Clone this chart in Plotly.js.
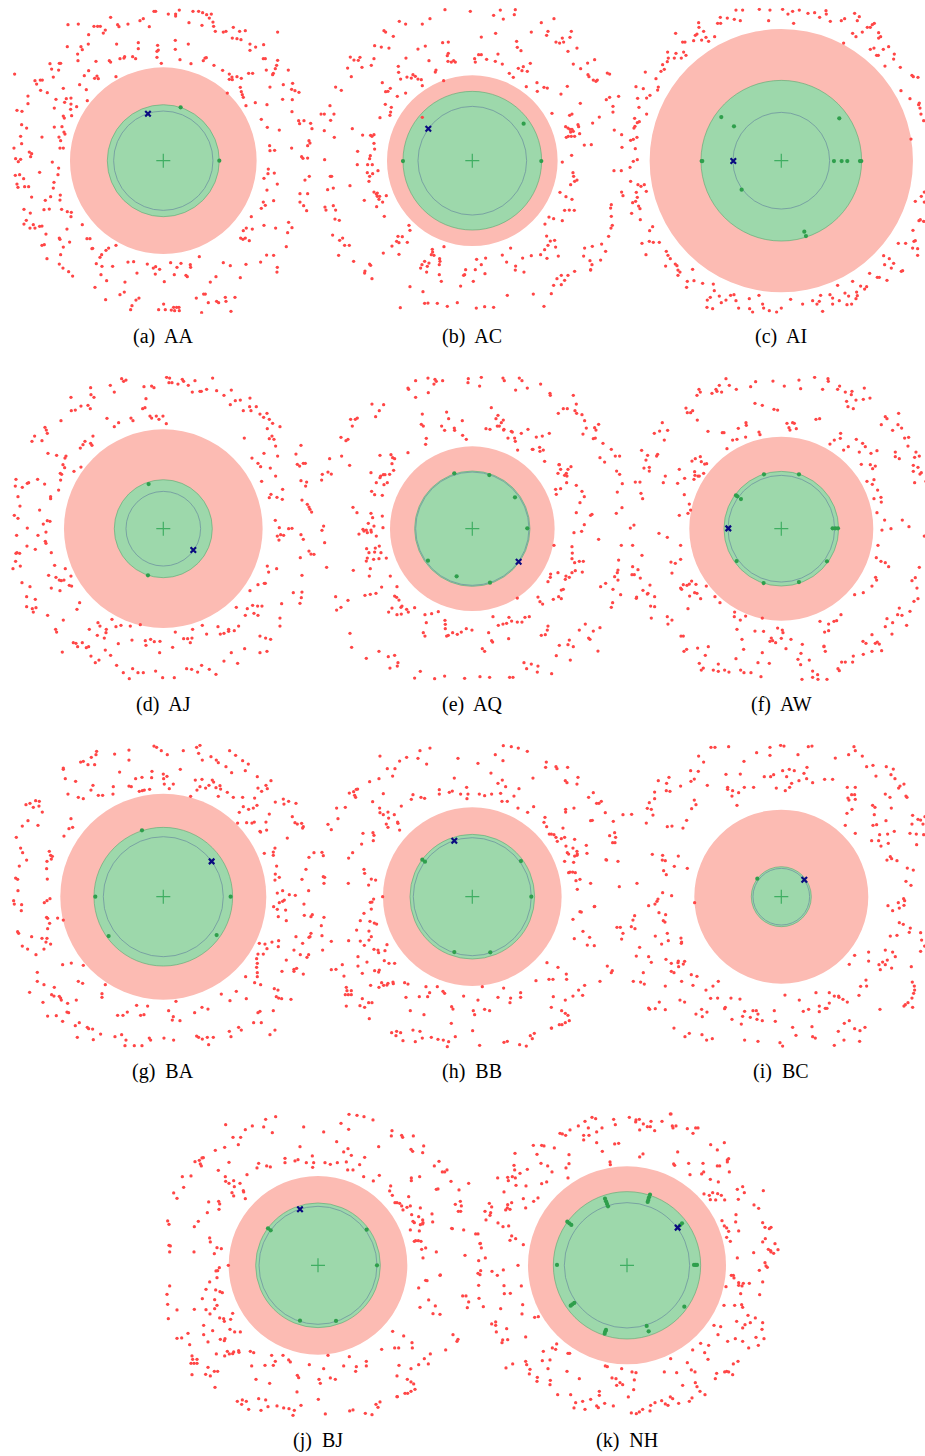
<!DOCTYPE html>
<html><head><meta charset="utf-8">
<script src="https://cdn.plot.ly/plotly-3.0.1.min.js"></script>
<style>html,body{margin:0;padding:0;background:#fff}</style>
</head><body><div id="chart" style="width:925px;height:1456px"></div>
<script>
// ---------------- DATA (units: measured picture units, y downward) ----------------
const names = ['AA','AC','AI','AJ','AQ','AW','BA','BB','BC','BJ','NH'];
const captions = ['(a)  AA','(b)  AC','(c)  AI','(d)  AJ','(e)  AQ','(f)  AW','(g)  BA','(h)  BB','(i)  BC','(j)  BJ','(k)  NH'];
const centers = [[460,458],[463,458],[466,458],[460,458],[463,458],[466,458],[460,458],[463,458],[466,458],[463,458],[471,460]];
const outerRadius = [280,256,395,298,247,276,309,268,261,268,297];
const greenRadius = [168,208,241,147,173,172,208,187,90,187,221];
const innerRadius = [149,163,145,112,170,160,180,177,85,177,188];

const redAA = [[432,10],[437,10],[475,18],[497,18],[497,24],[508,6],[549,10],[566,10],[578,14],[590,20],[604,18],[598,30],[609,42],[611,55],[616,70],[576,52],[537,44],[640,72],[648,70],[670,58],[689,70],[706,68],[667,90],[681,92],[693,95],[720,108],[737,117],[761,110],[720,127],[803,72],[302,28],[323,50],[327,56],[354,48],[390,38],[400,32],[418,56],[174,50],[205,48],[252,55],[263,55],[271,55],[286,66],[280,75],[236,80],[213,116],[217,125],[203,138],[235,108],[172,116],[320,108],[385,104],[385,122],[443,112],[445,126],[441,130],[441,148],[496,97],[496,124],[535,108],[510,155],[454,166],[543,167],[585,150],[589,149],[580,158],[612,172],[638,187],[658,198],[658,214],[666,207],[667,215],[681,206],[694,211],[728,196],[716,196],[760,152],[766,152],[803,157],[800,172],[796,182],[790,196],[769,186],[788,200],[835,186],[820,230],[848,226],[855,248],[845,244],[780,237],[691,238],[694,251],[697,260],[700,268],[652,255],[708,293],[736,284],[771,290],[818,274],[867,253],[847,275],[846,311],[866,338],[882,338],[902,346],[906,362],[869,347],[808,366],[772,358],[754,334],[779,413],[794,427],[780,428],[845,420],[875,446],[879,451],[893,450],[897,398],[893,413],[900,405],[762,511],[774,497],[793,495],[775,483],[802,528],[771,546],[885,516],[898,505],[870,557],[893,557],[881,593],[870,582],[890,608],[836,643],[846,659],[833,674],[829,716],[797,660],[762,652],[760,582],[791,578],[754,601],[766,592],[724,626],[727,663],[709,660],[700,668],[692,690],[699,694],[718,698],[706,690],[770,741],[791,742],[752,762],[802,778],[801,792],[708,769],[691,809],[661,773],[640,764],[618,806],[601,822],[568,746],[541,770],[542,778],[528,802],[532,806],[513,766],[482,764],[463,821],[501,778],[493,800],[449,784],[437,776],[430,780],[436,798],[412,768],[381,795],[371,761],[354,762],[308,775],[276,775],[273,800],[259,767],[275,740],[270,748],[296,720],[318,712],[288,727],[248,721],[231,692],[240,692],[246,722],[217,650],[179,702],[171,663],[152,740],[148,768],[159,780],[176,791],[188,804],[111,752],[96,712],[103,710],[108,678],[89,655],[96,654],[70,650],[75,660],[60,660],[42,648],[49,637],[42,604],[61,615],[65,567],[102,605],[106,577],[122,566],[151,561],[150,576],[155,604],[172,611],[184,613],[183,626],[118,603],[130,540],[132,523],[144,500],[146,480],[89,493],[127,462],[56,536],[44,536],[41,512],[29,500],[16,502],[24,538],[21,528],[32,454],[25,461],[17,452],[62,446],[58,432],[35,407],[32,385],[12,420],[50,360],[35,350],[21,307],[36,310],[54,287],[54,264],[75,218],[80,228],[91,216],[97,216],[92,247],[112,254],[130,207],[125,183],[120,167],[148,166],[152,166],[146,186],[160,241],[138,274],[169,272],[164,283],[183,270],[183,288],[182,304],[200,296],[133,300],[160,324],[163,330],[185,323],[133,357],[156,356],[162,372],[165,378],[147,387],[152,398],[160,420],[150,420],[96,387],[65,437],[223,203],[209,230],[229,245],[236,188],[232,278],[254,211],[261,204],[265,212],[258,160],[298,158],[302,162],[318,206],[330,152],[344,146],[342,150],[368,146],[377,152],[14,198],[204,158],[287,875],[330,860],[343,852],[362,905],[366,893],[378,876],[387,870],[446,905],[461,888],[466,905],[484,906],[491,898],[494,908],[500,898],[508,908],[507,898],[581,858],[586,858],[559,870],[595,884],[620,880],[626,884],[646,868],[648,880],[675,868],[663,910],[575,914],[255,838],[290,818],[345,822],[148,690],[150,694],[160,717]];

const redAC = [[381,5],[457,10],[527,22],[547,6],[556,33],[589,20],[592,5],[244,40],[263,48],[313,48],[336,32],[198,68],[203,72],[226,85],[170,113],[190,117],[213,120],[168,152],[97,147],[108,156],[121,157],[126,148],[89,180],[100,206],[132,178],[160,172],[264,150],[241,175],[242,193],[248,213],[267,207],[285,200],[280,210],[292,205],[300,213],[310,215],[313,233],[333,158],[300,123],[322,114],[374,104],[391,102],[391,136],[388,143],[390,160],[400,162],[412,162],[407,158],[470,152],[472,162],[482,140],[490,140],[490,87],[506,154],[533,76],[540,138],[553,168],[532,160],[574,196],[586,208],[601,181],[616,176],[612,188],[628,190],[637,166],[596,100],[598,118],[609,128],[640,72],[670,44],[690,70],[686,82],[708,32],[714,102],[725,105],[733,90],[737,102],[756,88],[760,70],[750,130],[777,120],[766,168],[788,182],[809,165],[830,155],[810,200],[813,206],[826,216],[834,220],[838,216],[868,195],[875,198],[865,275],[875,268],[902,265],[885,295],[885,312],[889,366],[911,380],[912,418],[888,488],[910,488],[911,552],[915,563],[880,590],[878,600],[880,625],[883,652],[879,660],[872,685],[863,730],[851,708],[848,756],[823,715],[800,720],[797,744],[816,758],[822,770],[818,785],[770,790],[750,802],[730,802],[740,817],[730,830],[717,812],[707,832],[700,857],[678,895],[646,858],[618,792],[614,750],[640,743],[593,774],[592,786],[566,762],[553,741],[578,720],[568,862],[527,898],[500,896],[475,900],[503,750],[490,770],[476,754],[472,785],[501,797],[466,820],[443,785],[440,800],[437,802],[428,834],[418,884],[388,895],[378,716],[370,820],[365,752],[366,760],[364,770],[364,800],[343,724],[344,732],[340,740],[348,742],[333,765],[328,775],[326,792],[320,760],[312,770],[308,780],[315,851],[276,836],[330,885],[358,886],[320,886],[247,899],[273,652],[276,667],[253,686],[240,685],[236,700],[243,704],[268,703],[222,714],[243,739],[196,735],[162,812],[158,772],[155,768],[141,789],[140,795],[107,760],[94,712],[80,712],[74,690],[65,697],[44,681],[62,742],[199,625],[176,596],[183,574],[178,565],[175,558],[185,565],[194,582],[178,555],[168,552],[205,563],[153,520],[148,494],[155,505],[164,497],[180,488],[118,470],[149,470],[163,470],[157,443],[155,452],[170,423],[168,406],[162,385],[168,380],[158,382],[134,381],[119,430],[103,362],[53,237],[70,247],[36,293],[48,318],[38,337],[19,318],[9,318],[19,368],[49,388],[20,455],[37,505],[41,505],[29,545],[46,540],[21,597],[24,606],[46,593],[53,606],[51,633],[64,637],[96,533],[139,577],[186,329],[218,312],[216,322],[202,289],[220,298],[203,251],[210,250],[217,241],[238,265],[263,255],[193,224],[313,328],[377,218],[352,192],[354,186],[625,236],[658,250],[678,238],[688,240],[657,224],[729,258],[748,235],[787,286],[702,316],[755,322],[762,318],[743,356],[750,360],[756,364],[762,364],[758,372],[766,370],[780,350],[782,356],[785,377],[770,385],[760,385],[751,385],[745,388],[799,411],[820,410],[824,345],[844,327],[733,462],[761,442],[765,494],[770,520],[777,516],[758,530],[767,505],[726,553],[744,566],[762,574],[754,606],[740,607],[769,607],[733,638],[693,627],[707,632],[681,648],[686,684],[697,699],[690,712],[710,697],[680,725],[687,751],[713,717],[721,744],[668,740],[818,786]];

const redAI = [[330,6],[350,6],[400,4],[432,6],[470,4],[486,18],[500,10],[520,6],[546,16],[566,14],[581,28],[601,18],[613,40],[600,8],[646,38],[656,32],[686,16],[700,26],[694,38],[690,86],[680,76],[709,72],[724,58],[733,58],[739,50],[745,46],[758,74],[764,86],[758,90],[503,46],[428,38],[325,34],[343,38],[304,30],[283,28],[284,46],[275,46],[218,44],[219,58],[233,70],[213,78],[208,82],[240,88],[266,86],[227,96],[248,100],[203,98],[170,102],[177,102],[149,76],[173,132],[125,132],[150,136],[180,142],[166,150],[145,150],[127,150],[124,161],[110,170],[115,184],[105,190],[90,212],[97,237],[95,246],[58,192],[52,242],[30,236],[35,271],[62,270],[72,262],[39,298],[62,318],[26,331],[34,344],[40,341],[27,355],[24,360],[22,394],[14,397],[28,422],[33,388],[34,455],[22,460],[12,478],[14,520],[36,530],[45,535],[55,530],[61,550],[31,553],[34,568],[29,580],[20,584],[38,594],[42,602],[17,616],[43,635],[71,668],[80,656],[48,706],[60,740],[70,700],[82,703],[100,703],[121,730],[126,742],[133,752],[119,774],[148,768],[153,773],[156,786],[162,792],[156,802],[200,784],[184,820],[182,838],[204,818],[230,826],[262,828],[265,848],[253,868],[244,876],[243,898],[260,902],[280,864],[286,884],[300,876],[314,862],[324,860],[330,878],[338,900],[370,872],[371,902],[380,912],[399,862],[410,888],[413,900],[430,908],[452,912],[466,900],[494,874],[530,888],[560,878],[573,888],[580,880],[584,862],[590,910],[612,860],[620,870],[620,888],[640,878],[657,855],[663,890],[668,864],[677,888],[690,872],[694,863],[716,843],[722,836],[704,834],[692,852],[635,832],[680,820],[731,796],[754,808],[760,808],[783,817],[776,770],[796,780],[790,752],[773,743],[803,766],[826,790],[830,788],[817,706],[839,706],[860,720],[875,742],[875,722],[864,700],[861,667],[879,638],[883,635],[893,640],[868,698],[895,552],[886,565],[868,580],[895,582],[855,393],[852,272],[878,290],[880,285],[885,318],[893,338],[882,300],[825,248],[858,202],[862,206],[876,208],[823,178],[777,174],[803,153],[805,138],[788,116],[772,124],[757,142],[752,142],[733,124],[744,120],[653,105]];

const redAJ = [[335,8],[341,16],[348,12],[402,32],[425,30],[432,35],[408,68],[398,98],[405,95],[420,120],[425,126],[439,120],[459,120],[447,130],[469,143],[477,20],[486,20],[479,6],[504,24],[517,10],[521,16],[535,28],[555,14],[547,48],[570,46],[574,46],[590,40],[608,6],[620,44],[664,42],[642,58],[661,86],[676,74],[691,72],[720,66],[719,92],[700,104],[723,104],[739,92],[750,114],[771,112],[761,124],[778,130],[788,142],[810,152],[772,158],[786,180],[778,188],[792,190],[797,210],[803,240],[762,232],[744,262],[752,272],[726,246],[703,186],[781,276],[797,300],[755,316],[783,355],[778,365],[801,364],[817,370],[818,340],[796,433],[808,455],[802,480],[812,476],[821,478],[807,492],[836,458],[846,457],[858,234],[873,208],[862,265],[869,270],[880,262],[886,262],[873,314],[890,318],[887,330],[892,385],[897,393],[900,400],[905,408],[876,372],[873,476],[880,490],[897,525],[903,534],[912,535],[871,545],[876,598],[850,650],[876,648],[874,665],[870,682],[815,683],[810,726],[810,750],[772,570],[776,588],[800,578],[763,622],[744,626],[766,622],[720,644],[728,688],[743,690],[756,690],[712,698],[706,718],[744,718],[732,712],[679,694],[686,750],[673,764],[656,766],[656,760],[642,772],[631,774],[624,752],[590,774],[577,748],[548,760],[546,786],[541,800],[533,788],[521,788],[496,768],[488,814],[449,830],[408,808],[406,794],[422,790],[433,797],[450,796],[391,746],[366,792],[361,750],[333,748],[325,803],[306,730],[318,752],[289,760],[288,770],[283,786],[302,838],[286,822],[270,750],[264,740],[262,778],[238,760],[236,812],[243,840],[256,860],[267,852],[229,815],[217,800],[203,812],[190,800],[198,802],[157,828],[137,760],[140,768],[160,732],[113,718],[78,695],[70,708],[67,698],[50,692],[50,662],[76,670],[36,620],[60,632],[150,644],[124,636],[138,604],[148,612],[154,614],[162,612],[183,600],[178,628],[185,630],[166,578],[134,568],[116,598],[209,680],[201,700],[31,570],[17,556],[9,578],[21,530],[18,532],[29,532],[51,510],[76,520],[124,530],[108,502],[106,496],[108,468],[84,478],[20,478],[52,456],[100,444],[112,434],[120,436],[89,402],[13,418],[24,427],[30,390],[24,362],[37,334],[16,330],[56,320],[52,322],[83,310],[18,310],[104,324],[122,362],[122,368],[146,342],[152,312],[151,292],[155,295],[192,286],[213,273],[168,240],[165,246],[159,266],[164,275],[140,238],[114,232],[105,154],[109,162],[112,172],[74,180],[66,196],[96,194],[183,64],[153,134],[184,104],[196,102],[213,90],[234,88],[241,98],[211,216],[219,206],[225,196],[242,202],[246,208],[249,180],[243,56],[252,64],[242,35],[301,28],[313,48],[291,127],[313,152],[326,140],[363,126],[369,134],[470,4],[320,868],[340,890],[358,908],[368,878],[384,890],[400,890],[437,885],[458,905],[493,905],[530,878],[545,880],[563,888],[575,868],[598,880],[618,895],[642,855],[664,830],[683,862],[704,818],[750,830],[771,826],[750,780],[767,786],[782,790]];

const redAQ = [[270,36],[272,40],[293,14],[293,64],[330,6],[351,10],[355,16],[348,24],[374,14],[331,50],[451,8],[450,20],[490,4],[485,30],[555,6],[559,14],[604,6],[612,14],[593,42],[628,36],[668,24],[696,52],[697,58],[766,58],[775,84],[792,116],[800,134],[771,104],[776,112],[736,98],[748,98],[721,112],[805,156],[830,155],[834,162],[842,145],[795,174],[826,188],[832,186],[855,202],[880,220],[892,240],[905,240],[860,258],[846,245],[896,285],[905,295],[913,323],[898,348],[912,395],[895,412],[910,508],[902,552],[900,582],[898,590],[890,602],[900,612],[885,640],[908,656],[884,680],[880,694],[863,622],[848,632],[846,755],[826,765],[812,786],[816,790],[802,744],[784,762],[754,792],[766,812],[724,808],[750,806],[715,839],[757,852],[840,825],[690,750],[688,762],[670,778],[682,776],[660,663],[666,677],[674,684],[706,670],[722,662],[730,668],[736,640],[720,590],[698,594],[690,617],[697,604],[742,610],[744,600],[754,604],[762,590],[772,584],[793,588],[770,560],[784,556],[796,556],[762,548],[763,531],[762,512],[791,466],[818,418],[822,415],[775,410],[768,470],[842,490],[799,446],[708,508],[786,380],[799,362],[792,346],[775,328],[746,320],[747,300],[740,298],[759,272],[750,280],[728,280],[745,292],[720,292],[723,266],[715,355],[728,338],[730,642],[634,722],[621,724],[612,738],[598,738],[581,735],[573,724],[555,744],[566,742],[572,788],[525,722],[541,748],[524,798],[521,794],[512,770],[493,818],[500,826],[462,762],[445,758],[430,768],[418,775],[404,770],[386,780],[391,778],[382,758],[382,745],[381,733],[361,707],[341,713],[321,716],[325,740],[316,770],[321,780],[290,695],[266,700],[271,708],[252,690],[250,714],[243,672],[236,664],[230,660],[237,632],[249,694],[237,716],[222,696],[212,708],[191,633],[174,652],[157,655],[141,658],[106,583],[90,673],[69,694],[53,662],[56,702],[96,772],[101,814],[145,847],[183,826],[211,842],[230,838],[240,860],[216,876],[238,870],[307,886],[290,906],[350,908],[380,900],[440,907],[486,902],[515,904],[575,904],[585,904],[618,860],[626,878],[660,870],[658,888],[640,864],[701,893],[598,666],[217,600],[205,546],[183,548],[189,530],[172,516],[170,528],[184,510],[153,530],[146,518],[148,546],[145,555],[157,578],[154,600],[167,550],[26,574],[20,500],[17,450],[12,463],[123,474],[135,460],[138,465],[145,462],[151,442],[148,470],[159,462],[168,450],[175,480],[159,412],[164,425],[117,410],[105,394],[193,420],[195,455],[160,468],[161,346],[170,356],[193,358],[208,320],[198,326],[201,296],[188,300],[196,296],[175,320],[159,290],[186,305],[215,295],[227,283],[222,263],[224,245],[219,236],[230,248],[186,238],[95,268],[71,240],[35,248],[30,288],[40,294],[13,295],[11,312],[69,184],[84,194],[90,190],[103,150],[98,130],[118,126],[112,130],[162,84],[173,122],[184,104],[197,86],[313,114],[310,145],[316,150],[270,230],[325,187],[323,205],[371,150],[380,163],[386,108],[392,128],[409,156],[410,163],[433,134],[434,178],[445,190],[520,95],[540,118],[534,128],[544,150],[550,140],[556,132],[557,162],[504,158],[516,160],[538,150],[558,160],[580,166],[570,186],[590,186],[592,196],[599,222],[583,168],[610,172],[630,160],[645,220],[655,183],[665,214],[673,180],[694,172],[676,222],[666,226],[643,220],[680,256],[724,266],[713,340]];

const redAW = [[300,8],[280,28],[258,52],[270,40],[273,46],[287,48],[310,28],[331,40],[374,32],[389,17],[441,15],[475,30],[519,12],[524,38],[566,4],[606,8],[607,16],[590,40],[635,40],[641,30],[658,48],[676,56],[678,46],[690,72],[712,70],[715,36],[732,66],[662,76],[666,92],[682,98],[219,40],[223,48],[213,58],[180,96],[184,110],[194,110],[200,104],[214,132],[246,166],[289,170],[294,170],[303,218],[320,192],[333,190],[337,157],[360,140],[361,148],[359,183],[399,168],[402,176],[387,82],[409,88],[444,100],[455,102],[483,142],[489,155],[500,140],[505,142],[511,158],[492,162],[570,130],[581,128],[625,192],[612,204],[644,172],[643,187],[653,222],[667,212],[691,190],[710,202],[718,212],[700,228],[733,266],[706,265],[735,232],[740,278],[723,316],[739,325],[744,311],[753,224],[748,270],[755,342],[765,364],[766,378],[744,368],[753,410],[776,432],[768,462],[795,458],[756,508],[751,545],[765,556],[778,560],[788,572],[749,604],[752,612],[738,630],[712,650],[686,656],[645,716],[624,736],[632,734],[608,744],[582,736],[594,812],[550,852],[560,885],[560,904],[575,896],[576,910],[603,910],[528,910],[524,866],[516,850],[525,832],[529,805],[495,790],[471,770],[466,787],[480,818],[449,800],[432,796],[436,786],[409,830],[396,860],[430,862],[405,902],[375,890],[354,890],[344,882],[353,820],[348,790],[330,848],[309,888],[277,864],[277,886],[296,882],[262,882],[232,876],[220,862],[226,882],[238,838],[247,812],[215,816],[182,820],[174,826],[165,780],[172,780],[138,732],[124,722],[126,744],[76,726],[74,690],[86,692],[72,627],[51,643],[64,654],[66,652],[86,662],[32,663],[31,667],[25,596],[18,596],[43,606],[36,581],[20,572],[48,538],[20,508],[13,456],[24,447],[99,472],[124,484],[164,508],[135,558],[148,562],[164,550],[138,591],[164,636],[172,626],[183,628],[167,640],[191,660],[190,624],[197,615],[210,625],[206,650],[213,652],[224,668],[241,630],[267,662],[282,680],[186,698],[326,708],[325,722],[343,732],[359,720],[333,760],[387,765],[413,766],[409,726],[440,794],[455,756],[469,762],[160,418],[186,412],[194,402],[190,384],[175,356],[155,322],[176,307],[204,310],[207,298],[206,287],[216,300],[220,300],[233,292],[236,264],[242,263],[226,257],[223,242],[208,248],[198,255],[160,280],[118,300],[112,320],[95,235],[92,240],[65,238],[60,252],[47,223],[54,276],[70,274],[70,285],[28,318],[42,318],[45,352],[50,368],[115,192],[85,172],[101,165],[125,163],[109,140],[900,316],[886,290],[882,294],[866,320],[862,286],[876,274],[880,240],[866,244],[862,268],[870,228],[846,210],[836,186],[848,184],[808,228],[808,242],[820,248],[800,163],[816,146],[827,156],[818,112],[778,122],[783,128],[766,146],[829,432],[849,452],[895,480],[880,574],[868,605],[858,614],[873,636],[876,668],[864,676],[852,706],[820,696],[815,716],[828,718],[842,748],[800,740],[783,728],[778,752],[798,774],[754,798],[760,804],[738,776],[748,802],[738,826],[767,824],[712,835],[711,796],[720,802],[682,840],[658,858],[647,858],[680,858],[636,878],[640,884],[598,826],[594,810],[608,764],[596,768]];

const redBA = [[432,6],[440,10],[454,20],[472,32],[520,20],[560,10],[570,4],[566,28],[577,48],[603,38],[619,48],[625,56],[648,68],[659,20],[677,34],[698,50],[715,60],[706,80],[665,86],[742,98],[783,110],[768,124],[772,134],[744,132],[755,142],[734,162],[741,184],[700,188],[688,205],[716,196],[730,192],[698,160],[670,160],[652,145],[632,135],[630,125],[625,157],[618,131],[611,114],[607,108],[597,124],[587,132],[570,128],[576,106],[556,108],[561,138],[542,157],[511,76],[490,120],[478,134],[471,97],[461,104],[460,90],[463,120],[426,82],[425,101],[403,138],[388,142],[397,140],[419,136],[377,104],[357,126],[364,128],[329,84],[310,128],[309,150],[278,154],[265,154],[243,138],[249,124],[220,164],[205,160],[197,112],[174,150],[166,104],[160,72],[160,76],[212,54],[220,52],[234,62],[244,40],[254,62],[260,22],[258,32],[314,30],[357,18],[357,48],[396,100],[48,182],[60,178],[77,170],[88,172],[97,204],[87,186],[70,190],[84,244],[54,230],[37,246],[19,280],[32,312],[38,326],[50,348],[28,366],[17,402],[23,406],[24,440],[11,470],[13,480],[35,482],[34,500],[23,563],[26,568],[37,606],[53,615],[65,578],[78,632],[102,615],[108,594],[96,583],[122,600],[111,583],[113,554],[119,538],[110,520],[113,523],[103,476],[111,470],[120,464],[112,405],[110,374],[111,352],[118,322],[122,334],[127,337],[124,345],[143,522],[160,528],[183,224],[188,250],[177,254],[162,276],[158,662],[184,657],[220,664],[82,685],[82,712],[102,722],[133,730],[132,756],[125,752],[152,762],[154,768],[173,778],[148,757],[99,775],[59,745],[113,816],[139,815],[158,832],[171,804],[176,806],[199,768],[196,845],[208,836],[232,850],[236,854],[248,855],[202,880],[250,887],[272,870],[276,749],[276,760],[286,722],[205,712],[218,718],[323,814],[339,814],[352,804],[315,878],[335,872],[348,888],[345,905],[380,784],[392,814],[402,812],[413,786],[418,882],[422,888],[396,905],[373,905],[462,882],[491,888],[487,828],[490,818],[476,800],[498,772],[510,830],[554,806],[576,790],[594,795],[566,880],[577,885],[560,876],[592,880],[610,880],[596,902],[634,750],[660,770],[658,862],[663,878],[686,850],[694,858],[709,764],[679,742],[707,698],[734,716],[742,698],[742,686],[752,722],[740,670],[742,658],[740,644],[744,630],[760,630],[771,614],[765,600],[748,598],[786,594],[806,590],[805,608],[829,648],[852,676],[860,673],[852,682],[880,690],[816,682],[793,734],[804,738],[799,758],[806,762],[815,764],[843,766],[790,800],[750,802],[744,806],[731,836],[754,836],[795,858],[780,872],[871,632],[896,632],[891,640],[852,618],[878,598],[897,580],[903,568],[900,578],[858,578],[805,518],[802,496],[808,476],[791,488],[802,447],[818,472],[823,468],[827,498],[829,530],[856,454],[838,452],[818,440],[882,480],[883,514],[907,512],[903,518],[896,440],[888,376],[897,340],[912,326],[876,406],[796,390],[795,408],[808,400],[800,366],[790,324],[790,334],[795,312],[763,328],[832,282],[855,236],[862,240],[880,248],[878,252],[875,238],[847,218],[858,178],[836,172],[820,165],[822,180],[796,174],[768,234],[778,210],[750,262],[752,264],[770,258],[733,234],[726,237],[710,236],[683,237]];

const redBB = [[306,20],[336,12],[300,43],[326,60],[245,51],[266,40],[186,36],[208,74],[231,74],[224,96],[183,104],[155,113],[115,136],[107,143],[119,135],[94,147],[110,154],[113,160],[196,149],[164,173],[185,192],[186,206],[196,212],[210,204],[212,222],[205,240],[210,250],[240,238],[239,234],[245,258],[250,186],[229,212],[285,152],[280,166],[309,160],[320,163],[364,137],[364,150],[394,145],[403,141],[428,150],[446,130],[450,150],[447,164],[409,102],[420,43],[480,58],[484,150],[500,155],[519,87],[521,150],[540,118],[548,148],[553,108],[563,128],[552,172],[568,172],[603,134],[588,156],[600,192],[629,205],[647,188],[645,102],[532,32],[556,5],[580,8],[601,12],[628,22],[555,50],[685,54],[683,70],[714,68],[717,74],[749,70],[742,110],[747,116],[777,120],[780,100],[826,146],[812,160],[836,178],[850,172],[862,206],[823,229],[886,232],[875,275],[890,266],[884,296],[893,280],[900,352],[866,348],[904,428],[915,212],[829,488],[897,550],[907,550],[915,568],[911,585],[868,666],[883,680],[880,686],[846,712],[800,724],[782,738],[794,754],[765,756],[742,768],[731,800],[742,808],[750,814],[754,830],[742,836],[724,842],[700,852],[700,790],[706,758],[745,690],[746,706],[720,670],[705,706],[693,706],[687,656],[654,710],[608,746],[608,760],[578,762],[576,776],[557,732],[540,760],[515,800],[500,796],[493,728],[480,768],[466,800],[470,812],[437,756],[401,788],[405,795],[400,838],[380,748],[375,742],[358,728],[335,746],[329,758],[324,728],[304,758],[318,812],[277,800],[264,760],[260,716],[270,720],[225,714],[210,718],[197,724],[183,730],[158,724],[85,730],[87,740],[82,752],[91,752],[100,752],[133,764],[152,776],[162,776],[126,785],[140,790],[85,786],[154,824],[221,866],[236,862],[248,866],[234,875],[255,890],[285,858],[306,862],[313,882],[292,893],[340,880],[360,886],[376,888],[392,893],[388,908],[412,878],[464,860],[485,904],[558,895],[568,892],[605,902],[625,906],[637,875],[649,868],[643,884],[701,852],[732,842],[815,580],[795,562],[808,603],[829,605],[769,584],[765,526],[786,503],[790,504],[830,487],[818,418],[786,406],[774,410],[778,436],[764,384],[772,386],[756,384],[752,386],[767,355],[777,322],[777,334],[770,336],[748,326],[752,330],[744,306],[740,352],[765,312],[740,280],[730,284],[714,280],[708,272],[700,270],[718,292],[694,270],[686,248],[678,235],[681,220],[735,252],[743,196],[743,204],[770,286],[778,330],[807,328],[805,304],[864,347],[891,296],[843,178],[818,230],[768,192],[191,716],[207,723],[226,719],[170,680],[182,684],[184,678],[213,658],[230,658],[199,650],[201,620],[207,602],[180,618],[182,626],[168,616],[147,654],[120,638],[133,688],[120,666],[73,662],[78,696],[54,676],[40,677],[100,740],[139,604],[153,588],[160,578],[127,591],[153,561],[156,532],[169,537],[176,540],[138,508],[160,495],[157,475],[162,474],[167,465],[152,423],[160,405],[173,408],[138,376],[140,388],[166,290],[168,274],[165,266],[135,268],[131,300],[104,326],[92,342],[40,257],[60,224],[30,241],[56,192],[82,190],[16,335],[12,325],[16,398],[20,400],[18,418],[91,418],[194,458],[18,520],[10,545],[12,575],[40,592],[14,618],[116,558],[92,590],[127,530]];

const redBC = [[255,10],[267,10],[308,8],[392,26],[432,10],[432,34],[464,4],[474,6],[516,32],[547,8],[558,6],[628,42],[668,32],[684,8],[688,20],[709,36],[722,68],[741,64],[750,96],[781,68],[802,75],[795,92],[807,104],[818,132],[822,126],[834,120],[840,156],[843,160],[778,150],[792,160],[796,192],[740,184],[747,190],[745,212],[741,244],[752,242],[780,230],[761,272],[785,270],[805,262],[737,290],[758,290],[765,306],[787,298],[783,348],[793,338],[797,344],[813,350],[844,372],[862,378],[840,412],[855,424],[852,268],[858,240],[860,214],[876,226],[884,228],[897,218],[891,240],[871,270],[893,272],[872,302],[658,244],[688,268],[663,208],[678,196],[666,162],[669,168],[677,152],[686,152],[688,166],[664,130],[688,130],[596,106],[620,106],[560,116],[543,70],[542,104],[534,88],[519,110],[505,80],[490,76],[497,118],[491,130],[482,98],[478,140],[470,80],[451,132],[443,92],[434,98],[415,98],[383,130],[355,130],[354,52],[343,90],[333,184],[338,146],[318,156],[305,130],[305,136],[300,91],[320,140],[244,124],[218,36],[233,54],[194,80],[217,82],[205,105],[195,112],[164,126],[129,100],[122,118],[97,110],[121,140],[132,142],[86,144],[86,164],[70,176],[64,193],[76,196],[81,213],[17,211],[61,237],[124,248],[138,246],[171,252],[182,229],[210,182],[197,194],[205,168],[79,331],[110,334],[157,336],[109,348],[118,350],[145,367],[113,380],[121,392],[184,373],[137,455],[110,446],[96,465],[93,472],[87,480],[68,485],[33,418],[206,476],[99,506],[119,512],[112,530],[117,534],[26,515],[21,528],[16,548],[27,554],[124,568],[165,582],[167,594],[166,598],[127,590],[107,600],[88,576],[41,610],[31,636],[68,638],[76,655],[120,646],[136,658],[157,651],[158,668],[172,660],[176,652],[156,656],[144,686],[136,682],[167,712],[196,692],[213,697],[201,724],[240,738],[261,726],[277,712],[52,686],[22,712],[44,714],[55,720],[118,726],[100,774],[68,792],[71,796],[88,794],[118,797],[162,768],[176,774],[254,763],[275,762],[243,804],[227,796],[210,810],[229,818],[296,794],[298,790],[315,762],[342,765],[318,826],[346,840],[356,802],[350,817],[373,820],[381,800],[391,800],[396,810],[393,826],[409,830],[445,800],[448,832],[477,753],[520,768],[532,802],[548,796],[558,848],[570,746],[580,786],[580,803],[598,793],[603,793],[610,746],[625,756],[639,760],[651,766],[664,774],[610,777],[638,756],[699,754],[704,727],[722,726],[720,708],[686,634],[670,661],[728,651],[728,624],[759,662],[770,654],[778,662],[763,677],[784,648],[778,618],[800,624],[808,638],[793,576],[813,574],[850,565],[884,566],[887,588],[896,606],[884,622],[856,668],[859,714],[865,726],[866,738],[863,748],[858,762],[846,776],[838,782],[834,786],[860,790],[762,796],[670,830],[655,838],[686,854],[702,860],[717,850],[701,892],[654,888],[637,862],[625,904],[560,878],[568,882],[500,850],[510,874],[470,906],[462,896],[396,892],[356,888],[259,884],[242,888],[228,872],[190,868],[177,878],[144,852],[800,500],[786,485],[820,492],[834,484],[833,464],[836,470],[817,476],[820,536],[832,541],[853,552],[797,672]];

const redBJ = redBB; // panel (j) repeats the same point cloud as panel (h)

const redNH = [[366,16],[377,20],[345,28],[355,48],[357,70],[380,60],[396,48],[341,70],[341,84],[325,42],[300,54],[270,64],[277,66],[287,70],[253,108],[222,102],[190,100],[215,100],[201,127],[213,154],[233,162],[246,180],[230,210],[215,215],[297,128],[288,168],[297,155],[294,198],[397,118],[380,92],[420,150],[421,158],[446,94],[431,22],[436,38],[478,16],[498,24],[497,30],[508,22],[520,36],[532,44],[541,44],[543,28],[509,54],[576,28],[554,56],[601,6],[607,42],[618,42],[609,48],[652,50],[669,64],[677,48],[684,48],[656,154],[614,160],[611,156],[519,126],[509,135],[623,120],[660,188],[699,154],[695,186],[701,180],[721,202],[722,98],[742,114],[763,92],[745,210],[742,162],[776,140],[772,150],[778,180],[772,144],[749,162],[702,246],[718,250],[728,242],[743,245],[721,263],[737,264],[754,250],[764,264],[802,232],[818,224],[823,242],[805,262],[880,236],[852,279],[866,289],[798,308],[756,326],[763,342],[770,348],[797,330],[806,357],[776,358],[770,376],[781,388],[885,346],[898,350],[903,346],[878,332],[886,380],[878,390],[895,412],[902,416],[911,424],[903,420],[924,413],[915,395],[851,422],[802,438],[885,452],[888,462],[892,466],[868,475],[878,510],[869,548],[820,514],[838,514],[806,512],[806,520],[784,490],[790,490],[792,498],[816,522],[812,545],[768,524],[762,580],[794,580],[815,578],[818,586],[834,610],[856,618],[841,632],[818,648],[825,638],[800,628],[878,632],[876,652],[858,676],[882,680],[865,700],[836,708],[818,688],[796,680],[773,688],[732,640],[752,644],[744,668],[692,694],[716,700],[704,722],[668,714],[652,752],[664,774],[675,780],[714,742],[740,784],[736,800],[764,780],[790,756],[804,748],[788,788],[770,778],[776,780],[602,740],[620,782],[583,780],[638,820],[676,812],[681,824],[690,838],[705,848],[666,858],[658,868],[626,874],[601,855],[608,860],[594,880],[586,876],[575,866],[555,872],[542,880],[540,897],[518,892],[508,900],[499,905],[484,903],[475,855],[486,780],[498,782],[493,804],[491,833],[458,818],[450,812],[440,820],[438,800],[426,798],[455,770],[412,764],[406,762],[388,838],[388,850],[380,882],[385,887],[404,874],[430,882],[362,862],[345,892],[338,868],[317,872],[312,888],[328,800],[302,848],[263,848],[240,818],[241,805],[202,796],[234,770],[217,746],[240,744],[291,778],[260,696],[247,708],[220,718],[257,712],[294,724],[299,724],[167,748],[170,758],[180,772],[178,786],[201,808],[128,756],[108,768],[98,684],[96,692],[113,683],[77,630],[77,640],[79,660],[65,636],[110,650],[158,578],[156,606],[194,616],[205,614],[167,675],[121,544],[103,545],[102,521],[154,522],[92,590],[40,584],[26,520],[27,559],[24,484],[30,488],[32,476],[26,446],[46,438],[66,478],[82,490],[100,474],[144,460],[160,398],[120,385],[125,372],[137,380],[116,342],[99,344],[84,333],[30,395],[34,408],[31,394],[24,366],[17,366],[62,302],[60,310],[45,298],[48,324],[58,274],[65,285],[102,240],[112,288],[125,272],[113,278],[120,292],[107,294],[160,260],[167,288],[136,198],[138,220],[127,194],[113,196],[115,206],[83,198],[168,222],[191,268],[204,258],[135,124],[132,160],[134,174],[150,184],[172,172],[603,6],[434,96]];

const greenPts = [
  [[512,298],[628,458]],
  [[255,459],[670,459],[617,347]],
  [[227,459],[229,459],[324,355],[286,327],[347,545],[624,459],[647,459],[664,459],[702,459],[706,459],[640,331],[535,671],[540,684]],
  [[416,324],[414,598]],
  [[409,292],[514,297],[591,364],[628,457],[330,554],[416,601],[516,620]],
  [[414,295],[519,295],[330,358],[334,361],[345,369],[620,457],[628,457],[636,457],[332,555],[603,556],[413,621],[519,618]],
  [[396,259],[256,458],[662,458],[296,576],[620,573]],
  [[313,347],[321,353],[609,351],[640,458],[409,624],[517,625]],
  [[394,404]],
  [[313,347],[321,353],[609,351],[640,458],[409,624],[517,625]],
  [[405,260],[408,268],[411,276],[414,283],[540,248],[537,256],[535,264],[533,270],[292,329],[298,334],[304,339],[636,334],[630,340],[261,459],[672,459],[677,459],[681,459],[302,581],[307,577],[313,573],[643,584],[404,665],[406,658],[408,654],[530,642],[536,658]]
];
const bluePts = [[414,317],[331,362],[322,459],[550,522],[602,557],[307,457],[605,352],[409,290],[535,407],[409,290],[623,347]];
const redPts = [redAA,redAC,redAI,redAJ,redAQ,redAW,redBA,redBB,redBC,redBJ,redNH];

// ---------------- LAYOUT (page placement) ----------------
const W = 925, H = 1456;
const panelPx = [[163.3,160.7],[472.3,160.7],[781.3,160.7],[163.3,528.7],[472.3,528.7],[781.3,528.7],[163.3,896.7],[472.3,896.7],[781.3,896.7],[318,1265.3],[627,1265.3]];
const captionY = [336,336,336,704,704,704,1071,1071,1071,1440,1440];
const HALF = 153, SCALE = 3;

const traces = [], shapes = [], annotations = [];
const layout = {width:W, height:H, margin:{l:0,r:0,t:0,b:0}, showlegend:false,
  paper_bgcolor:'#fff', plot_bgcolor:'rgba(0,0,0,0)'};

names.forEach((nm, i) => {
  const k = i === 0 ? '' : String(i+1);
  const xa = 'x'+k, ya = 'y'+k;
  const [px, py] = panelPx[i];
  const [cx, cy] = centers[i];
  const L = Math.max(0, px-HALF), R = Math.min(W, px+HALF);
  const T = Math.max(0, py-HALF), B = Math.min(H, py+HALF);
  layout['xaxis'+k] = {domain:[L/W, R/W], range:[cx+(L-px)*SCALE, cx+(R-px)*SCALE], visible:false, fixedrange:true, anchor:ya};
  layout['yaxis'+k] = {domain:[1-B/H, 1-T/H], range:[cy+(B-py)*SCALE, cy+(T-py)*SCALE], visible:false, fixedrange:true, anchor:xa};

  const circ = (r, fill, line) => ({type:'circle', xref:xa, yref:ya, layer:'below',
    x0:cx-r, x1:cx+r, y0:cy-r, y1:cy+r, fillcolor:fill, line:line});
  shapes.push(circ(outerRadius[i], '#fcbbb3', {width:0}));
  shapes.push(circ(greenRadius[i], '#9dd8ab', {color:'rgba(95,170,115,0.8)', width:0.8}));
  shapes.push(circ(innerRadius[i], 'rgba(0,0,0,0)', {color:'rgba(112,150,160,0.9)', width:0.9}));

  const r = redPts[i];
  traces.push({type:'scatter', mode:'markers', xaxis:xa, yaxis:ya, hoverinfo:'skip',
    x:r.map(p=>p[0]), y:r.map(p=>p[1]), marker:{size:3.3, color:'#ff4646'}});
  const g = greenPts[i];
  traces.push({type:'scatter', mode:'markers', xaxis:xa, yaxis:ya, hoverinfo:'skip',
    x:g.map(p=>p[0]), y:g.map(p=>p[1]), marker:{size:4.2, color:'#2f9f4c'}});
  traces.push({type:'scatter', mode:'markers', xaxis:xa, yaxis:ya, hoverinfo:'skip',
    x:[cx], y:[cy], marker:{symbol:'cross-thin', size:10, line:{color:'#3fae62', width:1.2}}});
  traces.push({type:'scatter', mode:'markers', xaxis:xa, yaxis:ya, hoverinfo:'skip',
    x:[bluePts[i][0]], y:[bluePts[i][1]], marker:{symbol:'x-thin', size:5.5, line:{color:'#0a0a80', width:2.2}}});

  annotations.push({xref:'paper', yref:'paper', x:px/W, y:1-captionY[i]/H, xanchor:'center', yanchor:'middle',
    showarrow:false, text:captions[i], font:{family:'Liberation Serif, Times New Roman, serif', size:20, color:'#000'}});
});
layout.shapes = shapes;
layout.annotations = annotations;
Plotly.newPlot('chart', traces, layout, {staticPlot:true, displayModeBar:false});
</script>
</body></html>
